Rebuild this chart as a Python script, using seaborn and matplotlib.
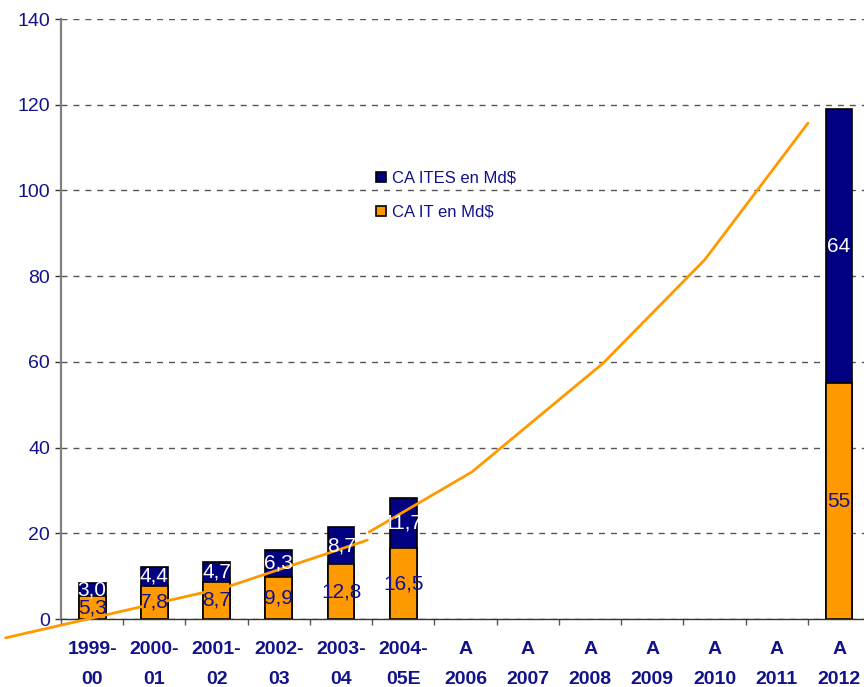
import numpy as np
import pandas as pd
import matplotlib
matplotlib.use('Agg')
import matplotlib.pyplot as plt
import matplotlib.patches as mpatches
import seaborn as sns

# categories on the x axis (two-line labels)
categories = ['1999-\n00', '2000-\n01', '2001-\n02', '2002-\n03', '2003-\n04', '2004-\n05E',
              'A\n2006', 'A\n2007', 'A\n2008', 'A\n2009', 'A\n2010', 'A\n2011', 'A\n2012']

# stacked bars (only some categories have values)
bar_categories = ['1999-\n00', '2000-\n01', '2001-\n02', '2002-\n03', '2003-\n04', '2004-\n05E', 'A\n2012']
ca_it = [5.3, 7.8, 8.7, 9.9, 12.8, 16.5, 55]
ca_ites = [3.0, 4.4, 4.7, 6.3, 8.7, 11.7, 64]

# orange trend line, two pieces (x in category positions)
trend1_x = [-1.39, 2.14, 4.42]
trend1_y = [-4.4, 7.35, 18.4]
trend2_x = [4.45, 6.10, 8.21, 9.84, 11.50]
trend2_y = [20.3, 34.3, 59.7, 83.8, 115.7]

NAVY = '#000080'
ORANGE = '#FF9900'
TXT = '#12128a'

sns.set_style('white')
plt.rcParams['font.family'] = ['Liberation Sans', 'DejaVu Sans']
lab_size = 14

df = pd.DataFrame({'cat': bar_categories, 'it': ca_it, 'ites': ca_ites})
df['total'] = df['it'] + df['ites']

fig = plt.figure(figsize=(8.64, 6.87), dpi=100)
ax = fig.add_axes([61 / 864, 68 / 687, 1 - 61 / 864, 600 / 687])

sns.barplot(data=df, x='cat', y='total', order=categories, color=NAVY, saturation=1,
            width=0.43, edgecolor='black', linewidth=1.2, ax=ax, zorder=2)
sns.barplot(data=df, x='cat', y='it', order=categories, color=ORANGE, saturation=1,
            width=0.43, edgecolor='black', linewidth=1.2, ax=ax, zorder=2)

ax.plot(trend1_x, trend1_y, color=ORANGE, lw=2, clip_on=False, zorder=3)
ax.plot(trend2_x, trend2_y, color=ORANGE, lw=2, clip_on=False, zorder=3)

# value labels centred in each segment
pos = {c: i for i, c in enumerate(categories)}


def fmt(v):
    return f"{v:.1f}".replace('.', ',') if isinstance(v, float) else str(v)


for c, a, b in zip(bar_categories, ca_it, ca_ites):
    i = pos[c]
    ax.text(i, a / 2, fmt(a), ha='center', va='center', color=TXT, fontsize=15, zorder=4)
    ax.text(i, a + b / 2, fmt(b), ha='center', va='center', color='white', fontsize=15, zorder=4)

ax.set_ylim(0, 140)
ax.set_xlim(-0.5, 12.40)
ax.set_yticks(range(0, 141, 20))
ax.set_xlabel('')
ax.set_ylabel('')
ax.set_axisbelow(True)
ax.yaxis.grid(True, color='#555555', lw=1.0, linestyle=(0, (4.3, 4.3)))
ax.xaxis.grid(False)

for s in ['top', 'right']:
    ax.spines[s].set_visible(False)
ax.spines['left'].set_color('#808080')
ax.spines['left'].set_linewidth(1.6)
ax.spines['bottom'].set_color('#333333')
ax.spines['bottom'].set_linewidth(1.0)

ax.tick_params(axis='y', length=4, color='#333333', width=1, pad=4, left=True)
for t in ax.get_yticklabels():
    t.set_fontsize(14)
    t.set_color(TXT)

ax.set_xticks(range(len(categories)))
ax.set_xticklabels(categories, fontsize=lab_size, fontweight='bold', color=TXT, linespacing=1.95)
ax.tick_params(axis='x', length=0, pad=16)
ax.set_xticks(np.arange(-0.5, 12.5, 1.0), minor=True)
ax.tick_params(axis='x', which='minor', length=4, color='#555555', width=1, bottom=True)

handles = [mpatches.Patch(facecolor=NAVY, edgecolor='black', lw=1.2),
           mpatches.Patch(facecolor=ORANGE, edgecolor='black', lw=1.2)]
ax.legend(handles, ['CA ITES en Md$', 'CA IT en Md$'], loc='upper left',
          bbox_to_anchor=(0.392, 0.747), frameon=False, borderpad=0, borderaxespad=0,
          handlelength=0.6, handleheight=0.6, handletextpad=0.4, labelspacing=1.15,
          prop={'size': 12}, labelcolor=TXT)

fig.savefig('out.png', dpi=100)
